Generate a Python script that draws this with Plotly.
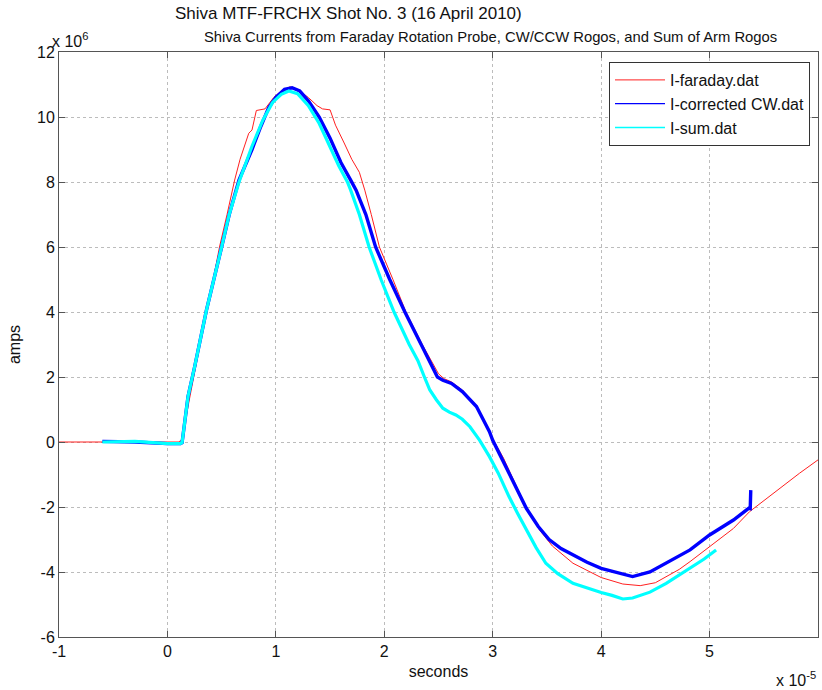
import plotly.graph_objects as go

# ---- data (x in units of 1e-5 s, y in units of 1e6 A) ----
faraday_x = [-1.0, 0.10, 0.13, 0.2, 0.3, 0.4, 0.48, 0.55, 0.62, 0.67, 0.71, 0.75, 0.78, 0.82, 0.9,
             0.95, 0.98, 1.05, 1.13, 1.2, 1.3, 1.38, 1.43, 1.50, 1.55, 1.63, 1.70, 1.77, 1.82, 1.88,
             1.955, 2.08, 2.2, 2.35, 2.50, 2.55, 2.62, 2.72, 2.85, 2.97, 3.0, 3.1, 3.2, 3.3, 3.43,
             3.55, 3.74, 4.0, 4.2, 4.36, 4.5, 4.6, 4.72, 4.82, 5.0, 5.22, 5.37, 5.5, 5.62, 5.83, 6.0]
faraday_y = [0.0, 0.0, 0.05, 1.3, 3.0, 4.6, 6.0, 7.0, 8.06, 8.7, 9.1, 9.5, 9.6, 10.2, 10.25,
             10.45, 10.6, 10.8, 10.93, 10.85, 10.6, 10.35, 10.25, 10.22, 9.75, 9.2, 8.7, 8.3, 7.75, 7.0,
             6.0, 5.0, 4.0, 3.0, 2.1, 1.95, 1.85, 1.6, 1.12, 0.35, 0.1, -0.5, -1.2, -1.95, -2.7,
             -3.2, -3.73, -4.17, -4.37, -4.42, -4.33, -4.14, -3.92, -3.68, -3.22, -2.66, -2.14, -1.8, -1.48, -0.96, -0.55]

cw_x = [-0.6, -0.3, 0.0, 0.12, 0.135, 0.16, 0.19, 0.25, 0.36, 0.50, 0.57, 0.66, 0.78, 0.86, 0.935,
        1.0, 1.08, 1.15, 1.22, 1.3, 1.4, 1.5, 1.6, 1.69, 1.74, 1.83, 1.92, 2.05, 2.19, 2.34,
        2.49, 2.54, 2.62, 2.72, 2.85, 2.97, 3.0, 3.09, 3.12, 3.2, 3.31, 3.42, 3.52, 3.63, 3.74,
        3.87, 4.0, 4.17, 4.29, 4.45, 4.6, 4.82, 5.0, 5.22, 5.36, 5.375, 5.38]
cw_y = [0.02, 0.0, -0.05, -0.05, -0.02, 0.7, 1.4, 2.3, 4.06, 6.0, 7.0, 8.06, 9.0, 9.7, 10.3,
        10.6, 10.85, 10.9, 10.8, 10.5, 10.0, 9.35, 8.6, 8.06, 7.75, 7.0, 6.0, 5.0, 4.0, 3.0,
        2.0, 1.9, 1.8, 1.55, 1.09, 0.32, 0.05, -0.55, -0.76, -1.3, -2.04, -2.6, -3.0, -3.28, -3.48,
        -3.7, -3.89, -4.04, -4.14, -4.0, -3.73, -3.32, -2.86, -2.4, -2.04, -2.05, -1.48]

sum_x = [-0.6, -0.3, 0.0, 0.12, 0.135, 0.16, 0.19, 0.25, 0.36, 0.50, 0.57, 0.66, 0.78, 0.88, 0.97,
         1.05, 1.12, 1.2, 1.3, 1.4, 1.5, 1.58, 1.66, 1.69, 1.77, 1.86, 1.97, 2.09, 2.23, 2.31,
         2.37, 2.42, 2.48, 2.54, 2.60, 2.66, 2.72, 2.79, 2.88, 2.97, 3.05, 3.15, 3.23, 3.31, 3.4,
         3.49, 3.6, 3.74, 3.87, 4.0, 4.1, 4.2, 4.29, 4.45, 4.6, 4.72, 4.82, 4.95, 5.06]
sum_y = [0.0, 0.02, -0.05, -0.05, -0.02, 0.7, 1.4, 2.3, 4.06, 6.0, 7.0, 8.0, 9.1, 9.9, 10.45,
         10.7, 10.8, 10.72, 10.35, 9.8, 9.1, 8.5, 8.0, 7.75, 7.0, 6.0, 5.0, 4.0, 3.0, 2.5,
         2.0, 1.6, 1.3, 1.04, 0.92, 0.83, 0.7, 0.47, 0.05, -0.45, -0.95, -1.68, -2.2, -2.71, -3.25,
         -3.73, -4.05, -4.35, -4.5, -4.63, -4.72, -4.83, -4.8, -4.62, -4.35, -4.1, -3.89, -3.6, -3.32]

x_ticks = [-1, 0, 1, 2, 3, 4, 5, 6]
y_ticks = [-6, -4, -2, 0, 2, 4, 6, 8, 10, 12]

names = ["I-faraday.dat", "I-corrected CW.dat", "I-sum.dat"]
colors = ["#ff2020", "#0000ff", "#00ffff"]

W, H = 822, 690
L, R, T, B = 59, 818, 52, 637

def px(xp):
    return (xp - L) / (R - L)

def py(yp):
    return (B - yp) / (B - T)

FONT = "Liberation Sans, Arial, sans-serif"

fig = go.Figure()
fig.add_trace(go.Scatter(x=faraday_x, y=faraday_y, mode="lines", line=dict(color=colors[0], width=1),
                         showlegend=False))
fig.add_trace(go.Scatter(x=cw_x, y=cw_y, mode="lines", line=dict(color=colors[1], width=3.4),
                         showlegend=False))
fig.add_trace(go.Scatter(x=sum_x, y=sum_y, mode="lines", line=dict(color=colors[2], width=3.2),
                         showlegend=False))
# legend entries (thin sample lines like the original)
for n, c, w in zip(names, colors, [1, 1.2, 1.6]):
    fig.add_trace(go.Scatter(x=[None], y=[None], mode="lines", name=n,
                             line=dict(color=c, width=w)))

axis_common = dict(showline=True, mirror="ticks", linecolor="#555555", linewidth=1,
                   ticks="inside", ticklen=6, tickcolor="#555555",
                   showgrid=True, gridcolor="#bcbcbc", griddash="dot", gridwidth=1,
                   zeroline=False, automargin=False,
                   tickfont=dict(family=FONT, size=16, color="#111"))

fig.update_layout(
    width=W, height=H,
    margin=dict(l=L, r=W - R, t=T, b=H - B),
    paper_bgcolor="white", plot_bgcolor="white",
    font=dict(family=FONT, size=16, color="#111"),
    xaxis=dict(range=[-1, 6], tickvals=x_ticks, ticktext=[str(v) for v in x_ticks],
               title=dict(text="seconds", standoff=6, font=dict(family=FONT, size=16)),
               **axis_common),
    yaxis=dict(range=[-6, 12], tickvals=y_ticks, ticktext=[str(v) for v in y_ticks],
               title=dict(text="amps", standoff=12, font=dict(family=FONT, size=16)),
               **axis_common),
    legend=dict(x=px(810), y=py(62), xanchor="right", yanchor="top",
                bgcolor="white", bordercolor="#333", borderwidth=1,
                font=dict(family=FONT, size=16), tracegroupgap=0, itemwidth=50),
    showlegend=True,
)

ann = [
    dict(text="Shiva MTF-FRCHX Shot No. 3 (16 April 2010)", x=px(348), y=py(13),
         xanchor="center", yanchor="middle", size=17),
    dict(text="Shiva Currents from Faraday Rotation Probe, CW/CCW Rogos, and Sum of Arm Rogos",
         x=px(202), y=py(37), xanchor="left", yanchor="middle", size=14.8),
    dict(text="x 10<sup>6</sup>", x=px(50), y=py(40), xanchor="left", yanchor="middle", size=16),
    dict(text="x 10<sup>-5</sup>", x=px(774), y=py(679), xanchor="left", yanchor="middle", size=16),
]
for a in ann:
    s = a.pop("size")
    fig.add_annotation(xref="paper", yref="paper", showarrow=False,
                       font=dict(family=FONT, size=s, color="#111"), **a)

fig.write_html("out.html", config={"displayModeBar": False},
               post_script="document.body.style.margin='0';document.body.style.overflow='hidden';")
